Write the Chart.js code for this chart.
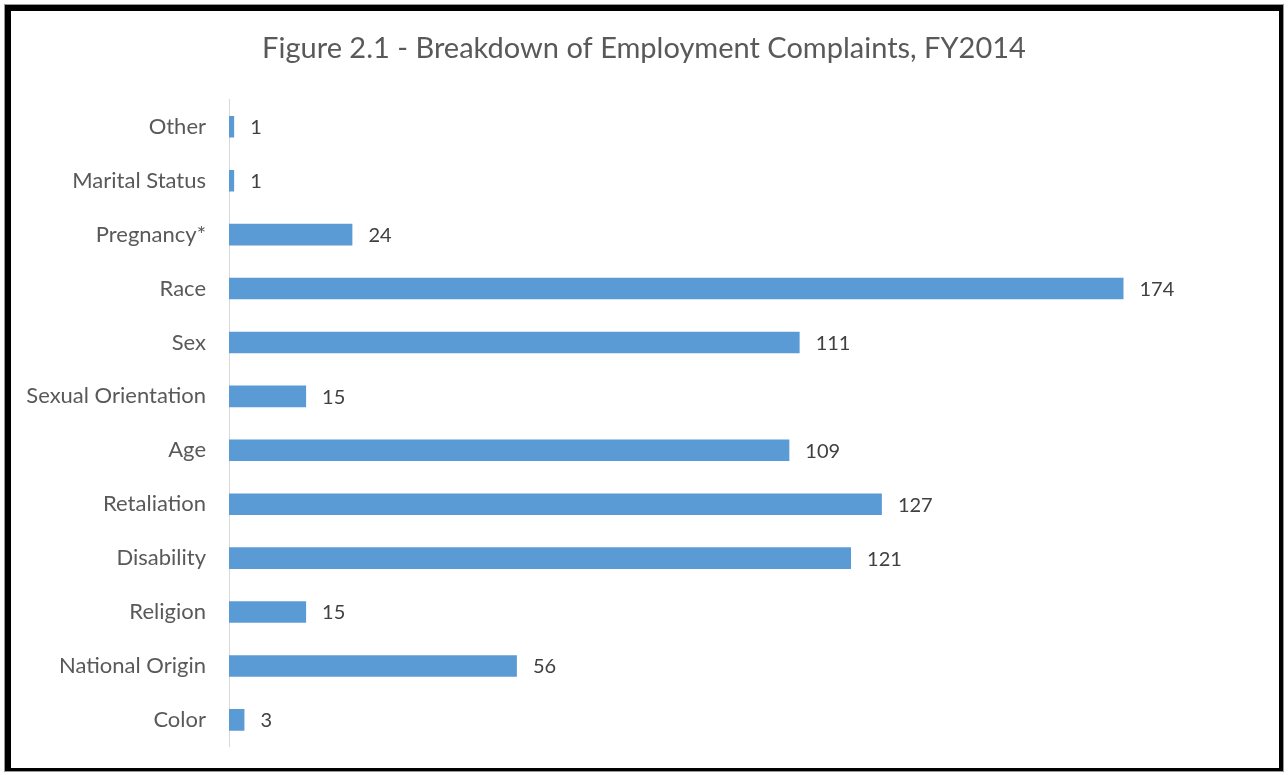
<!DOCTYPE html>
<html>
<head>
<meta charset="utf-8">
<script src="https://cdn.jsdelivr.net/npm/chart.js@4"></script>
<style>
  html, body { margin: 0; padding: 0; background: #fff; }
  #frame {
    position: absolute; left: 5px; top: 5px; width: 1278px; height: 766px;
    border-style: solid; border-color: #000;
    border-width: 6px 4px 3px 6px;
    box-sizing: border-box; outline: 1px solid #9a9a9a;
  }
  #wrap { position: absolute; left: 0; top: 0; width: 1288px; height: 775px; }
</style>
</head>
<body>
<div id="frame"></div>
<div id="wrap"><canvas id="chart" width="1288" height="775"></canvas></div>
<script>
const chartTitle = 'Figure 2.1 - Breakdown of Employment Complaints, FY2014';
const categories = [
  'Other', 'Marital Status', 'Pregnancy*', 'Race', 'Sex', 'Sexual Orientation',
  'Age', 'Retaliation', 'Disability', 'Religion', 'National Origin', 'Color',
];
const complaints = [1, 1, 24, 174, 111, 15, 109, 127, 121, 15, 56, 3];

const fontFamily = "Lato, 'Open Sans', sans-serif";

// writes the count just past the end of each bar
const barValues = {
  id: 'barValues',
  afterDatasetsDraw(chart) {
    const ctx = chart.ctx;
    const meta = chart.getDatasetMeta(0);
    ctx.save();
    ctx.font = '20px ' + fontFamily;
    ctx.fillStyle = '#404040';
    ctx.textAlign = 'left';
    ctx.textBaseline = 'middle';
    meta.data.forEach((bar, i) => {
      ctx.fillText(String(complaints[i]), bar.x + 16, bar.y + 1);
    });
    ctx.restore();
  },
};

new Chart(document.getElementById('chart'), {
  type: 'bar',
  data: {
    labels: categories,
    datasets: [{
      data: complaints,
      backgroundColor: '#5b9bd5',
      barPercentage: 0.4,
      categoryPercentage: 1,
    }],
  },
  options: {
    indexAxis: 'y',
    responsive: false,
    animation: false,
    layout: { padding: { top: 0, right: 0, bottom: 25, left: 0 } },
    plugins: {
      legend: { display: false },
      tooltip: { enabled: false },
      title: {
        display: true,
        text: chartTitle,
        color: '#595959',
        font: { family: fontFamily, size: 29, weight: 'normal' },
        padding: { top: 31, bottom: 34 },
      },
    },
    scales: {
      x: {
        display: false,
        min: 0,
        max: 206,
      },
      y: {
        grid: { display: false },
        border: { color: '#d9d9d9', width: 1 },
        ticks: {
          color: '#595959',
          padding: 15,
          font: { family: fontFamily, size: 22 },
        },
        afterFit(scale) { scale.width = 229; },
      },
    },
  },
  plugins: [barValues],
});
</script>
</body>
</html>
